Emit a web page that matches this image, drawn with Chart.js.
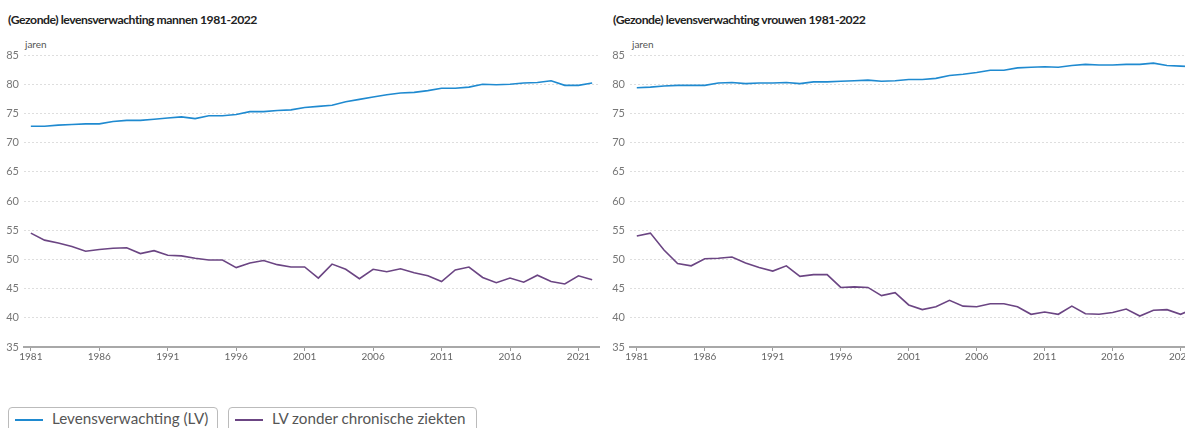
<!DOCTYPE html>
<html>
<head>
<meta charset="utf-8">
<script src="https://cdn.jsdelivr.net/npm/chart.js@4.4.1/dist/chart.umd.min.js"></script>
<style>
  html, body { margin: 0; padding: 0; background: #fff; }
  body { width: 1185px; height: 428px; overflow: hidden; position: relative; font-family: Lato, "Open Sans", sans-serif; }
  .title { position: absolute; top: 12px; font-size: 12.2px; letter-spacing: -0.45px; font-weight: bold; color: #222; white-space: nowrap; }
  .unit { position: absolute; top: 38px; font-size: 10px; color: #555; }
  canvas { position: absolute; top: 0; }
  .legend { position: absolute; top: 407px; height: 30px; border: 1px solid #bbb; border-radius: 4px; box-sizing: border-box; font-size: 15.2px; color: #555; white-space: nowrap; }
  .legend span.sw { position: absolute; left: 6px; top: 11px; width: 28px; height: 2px; }
  .legend span.tx { position: absolute; left: 43px; top: 1px; }
</style>
</head>
<body>
<div class="title" style="left:8px">(Gezonde) levensverwachting mannen 1981-2022</div>
<div class="title" style="left:613px">(Gezonde) levensverwachting vrouwen 1981-2022</div>
<div class="unit" style="left:25px">jaren</div>
<div class="unit" style="left:632px">jaren</div>
<canvas id="c1" width="605" height="368" style="left:0px"></canvas>
<canvas id="c2" width="600" height="368" style="left:605px"></canvas>
<div class="legend" style="left:8px;width:210px"><span class="sw" style="background:#1f8ad0"></span><span class="tx">Levensverwachting (LV)</span></div>
<div class="legend" style="left:228px;width:249px"><span class="sw" style="background:#6b4583"></span><span class="tx">LV zonder chronische ziekten</span></div>
<script>
const years = [];
for (let y = 1981; y <= 2022; y++) years.push(String(y));

const seriesNames = ['Levensverwachting (LV)', 'LV zonder chronische ziekten'];

const lvMannen = [72.8,72.8,73.0,73.1,73.2,73.2,73.6,73.8,73.8,74.0,74.2,74.4,74.1,74.6,74.6,74.8,75.3,75.3,75.5,75.6,
  76.0,76.2,76.4,77.0,77.4,77.8,78.2,78.5,78.6,78.9,79.3,79.3,79.5,80.0,79.9,80.0,80.2,80.3,80.6,79.8,79.8,80.2];
const gezondMannen = [54.5,53.3,52.8,52.2,51.4,51.7,51.9,52.0,51.0,51.5,50.7,50.6,50.2,49.9,49.9,48.6,49.4,49.8,49.1,48.7,
  48.7,46.8,49.2,48.3,46.7,48.3,47.9,48.4,47.7,47.2,46.2,48.2,48.7,46.9,46.0,46.8,46.1,47.3,46.2,45.8,47.2,46.5];
const lvVrouwen = [79.4,79.5,79.7,79.8,79.8,79.8,80.2,80.3,80.1,80.2,80.2,80.3,80.1,80.4,80.4,80.5,80.6,80.7,80.5,80.6,
  80.8,80.8,81.0,81.5,81.7,82.0,82.4,82.4,82.8,82.9,83.0,82.9,83.2,83.4,83.3,83.3,83.4,83.4,83.6,83.2,83.1,83.0];
const gezondVrouwen = [54.0,54.5,51.6,49.3,48.9,50.1,50.2,50.4,49.4,48.6,48.0,48.9,47.1,47.4,47.4,45.2,45.3,45.2,43.8,44.3,
  42.2,41.4,41.9,43.0,42.0,41.9,42.4,42.4,41.9,40.6,41.0,40.6,42.0,40.7,40.6,40.9,41.5,40.3,41.3,41.4,40.6,41.6];

const yTicks = { min: 35, max: 85, step: 5 };
const colors = ['#1f8ad0', '#6b4583'];

function makeChart(id, lv, gezond, yAxisWidth, padRight) {
  return new Chart(document.getElementById(id), {
    type: 'line',
    data: {
      labels: years,
      datasets: [
        { label: seriesNames[0], data: lv, borderColor: colors[0], borderWidth: 1.6, pointRadius: 0, tension: 0 },
        { label: seriesNames[1], data: gezond, borderColor: colors[1], borderWidth: 1.6, pointRadius: 0, tension: 0 }
      ]
    },
    options: {
      responsive: false,
      animation: false,
      layout: { padding: { top: 55, right: padRight, bottom: 0, left: 0 } },
      plugins: { legend: { display: false }, tooltip: { enabled: false }, title: { display: false } },
      scales: {
        x: {
          type: 'category',
          offset: true,
          border: { display: true, color: '#a8a8a8', width: 2 },
          grid: {
            display: true, drawOnChartArea: false, drawTicks: true, tickLength: 4,
            color: (ctx) => (ctx.index % 5 === 0 ? '#999' : 'rgba(0,0,0,0)')
          },
          ticks: {
            autoSkip: false, maxRotation: 0, padding: 0,
            color: '#666', font: { family: 'Lato, sans-serif', size: 10 },
            callback: (v, i) => (i % 5 === 0 ? years[i] : '')
          },
          afterFit: (s) => { s.height = 21; }
        },
        y: {
          min: yTicks.min, max: yTicks.max,
          border: { display: false, dash: [2, 2] },
          grid: { color: '#dedede', drawTicks: false, lineWidth: 1 },
          ticks: { stepSize: yTicks.step, padding: 5, color: '#777', font: { family: 'Lato, sans-serif', size: 11 } },
          afterFit: (s) => { s.width = yAxisWidth; }
        }
      }
    }
  });
}

makeChart('c1', lvMannen, gezondMannen, 24, 6);
makeChart('c2', lvVrouwen, gezondVrouwen, 25, 4);
</script>
</body>
</html>
